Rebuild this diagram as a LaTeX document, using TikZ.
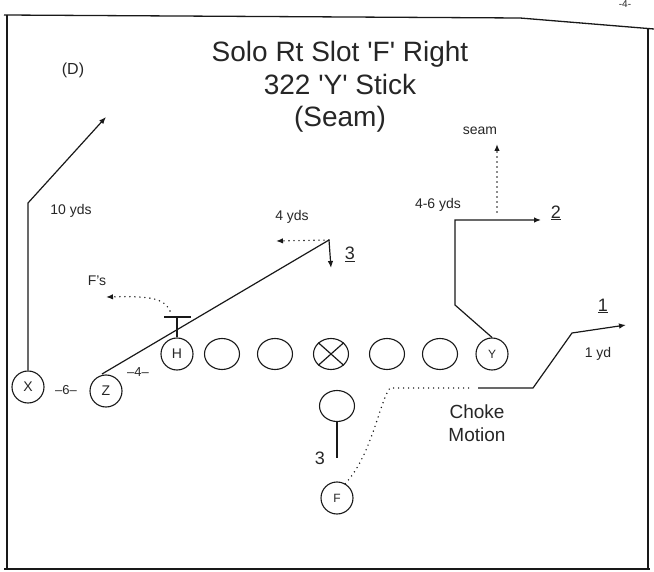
\documentclass[tikz,border=0pt]{standalone}
\usepackage{fontspec}
\setmainfont{Liberation Sans}
\usetikzlibrary{arrows.meta,shapes.geometric}
\newcommand{\fs}[1]{\fontsize{#1}{#1}\selectfont}
\newcommand{\sq}{\textquotesingle}
\begin{document}
\begin{tikzpicture}[x=1pt,y=-1pt,
  ink/.style={draw=black!90},
  player/.style={circle,ink,line width=1.1pt,minimum size=32pt,inner sep=0pt,text=black!85,font=\fs{14}},
  lineman/.style={ellipse,ink,line width=1.1pt,minimum width=35pt,minimum height=31pt,inner sep=0pt},
  route/.style={ink,line width=1.2pt},
  tip/.style={-{Latex[length=7pt,width=5.5pt]}},
  dots/.style={ink,line width=1.6pt,dash pattern=on 0pt off 5pt,line cap=round},
  lbl/.style={text=black!85,font=\fs{14},inner sep=0pt},
  num/.style={text=black!85,font=\fs{18},inner sep=0pt},
  title/.style={text=black!85,font=\fs{28},inner sep=0pt,anchor=base}]
\useasboundingbox (0,0) rectangle (654,572);
% frame
\draw[ink,line width=1.3pt] (4,15) -- (520,18) -- (654,29);
\draw[ink,line width=1.3pt] (7,15) -- (7,570);
\draw[ink,line width=1.3pt] (648,29) -- (648,570);
\draw[ink,line width=2pt] (4,569) -- (650,569);
\node[lbl,font=\fs{10}] (pg) at (625,4) {-4-};
% titles
\node[title] (t1) at (340,62) {Solo Rt Slot \sq F\sq\ Right};
\node[title] (t2) at (340,95) {322 \sq Y\sq\ Stick};
\node[title] (t3) at (340,127) {(Seam)};
\node[lbl,font=\fs{16}] (D) at (73,70) {(D)};
% players
\node[player] (X) at (28,387) {X};
\node[player] (Z) at (106,391) {Z};
\node[player] (H) at (177,354) {H};
\node[lineman] (L2) at (222,354) {};
\node[lineman] (L3) at (275,354) {};
\node[lineman] (C) at (331,354) {};
\draw[route] (C.north west) -- (C.south east) (C.north east) -- (C.south west);
\node[lineman] (L5) at (387,354) {};
\node[lineman] (L6) at (440,354) {};
\node[player,font=\fs{12}] (Y) at (492,354) {Y};
\node[lineman] (QB) at (337,406) {};
\node[player,font=\fs{12}] (F) at (337,498) {F};
\node[lbl,font=\fs{13}] (six) at (66,390) {--6--};
\node[lbl,font=\fs{13}] (four) at (138,372) {--4--};
% X route
\coordinate (xb) at (28,203);
\coordinate (xe) at (106,117);
\draw[route,tip] (X.north) -- (xb) -- (xe);
\node[lbl] (x10) at (71,211) {10 yds};
% Z route
\coordinate (zs) at (102,374);
\coordinate (z3) at (329,240);
\coordinate (z3d) at (331,268);
\coordinate (z3l) at (276,241);
\draw[route] (zs) -- (z3);
\draw[route,tip] (z3) -- (z3d);
\draw[dots,tip] (z3) -- (z3l);
\node[lbl] (y4) at (292,217) {4 yds};
\node[num] (n3) at (350,254) {\underline{3}};
% H block
\coordinate (ht) at (177,317);
\draw[route] (H.north) -- (ht);
\draw[route] (164,317) -- (191,317);
\coordinate (hf) at (106,297);
\draw[dots,tip] (170,311) .. controls (164,298) and (150,296) .. (hf);
\node[lbl] (fs) at (97,281) {F's};
% Y route
\coordinate (y1) at (455,305);
\coordinate (y2) at (455,220);
\coordinate (y3) at (541,220);
\draw[route,tip] (Y.north) -- (y1) -- (y2) -- (y3);
\node[num] (n2) at (556,213) {\underline{2}};
\node[lbl] (y46) at (438,205) {4-6 yds};
\coordinate (s1) at (497,212);
\coordinate (s2) at (497,144);
\draw[dots,tip] (s1) -- (s2);
\node[lbl] (seam) at (480,131) {seam};
% F motion and route
\coordinate (f1) at (390,388);
\coordinate (f2) at (472,388);
\coordinate (f3) at (478,388);
\coordinate (f4) at (533,388);
\coordinate (f5) at (572,333);
\coordinate (f6) at (626,325);
\draw[dots] (F.60) .. controls (372,455) and (380,400) .. (f1) -- (f2);
\draw[route,tip] (f3) -- (f4) -- (f5) -- (f6);
\node[num] (n1) at (603,306) {\underline{1}};
\node[lbl] (yd1) at (598,354) {1 yd};
\node[lbl,font=\fs{19},anchor=base] (ch) at (477,418) {Choke};
\node[lbl,font=\fs{19},anchor=base] (mo) at (477,441) {Motion};
% QB
\coordinate (qb3) at (337,458);
\draw[route] (QB.south) -- (qb3);
\node[num] (q3) at (320,458) {3};
\end{tikzpicture}
\end{document}
